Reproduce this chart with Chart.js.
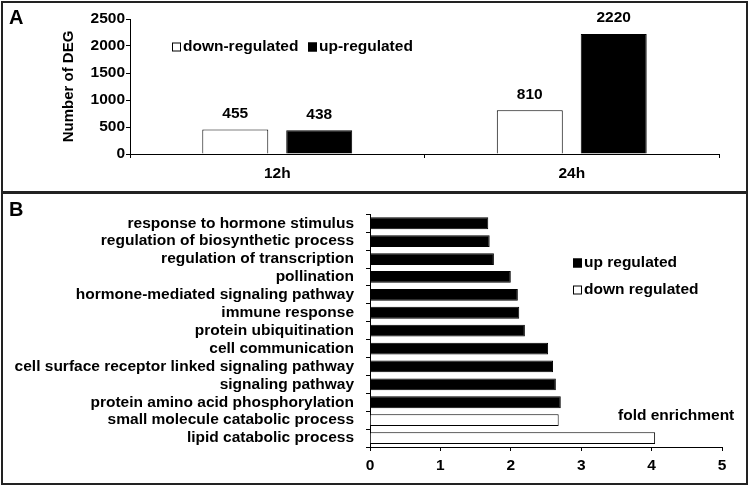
<!DOCTYPE html>
<html>
<head>
<meta charset="utf-8">
<script src="https://cdn.jsdelivr.net/npm/chart.js@4"></script>
<style>
   body { margin: 0; background: #fff; width: 750px; height: 487px; position: relative; overflow: hidden;
          font-family: "Liberation Sans", Arial, sans-serif; }
   canvas { position: absolute; left: 0; }
   #chartA { top: 0; }
   #chartB { top: 193px; }
   .panel { position: absolute; left: 1px; width: 743px; border: 2px solid #222; pointer-events: none; }
   #boxA { top: 1px; height: 188px; }
   #boxB { top: 192px; height: 289px; }
   .tag { position: absolute; left: 9px; font-weight: bold; font-size: 20px; line-height: 20px; color: #000; }
</style>
</head>
<body>
<canvas id="chartA" width="750" height="192"></canvas>
<canvas id="chartB" width="750" height="292"></canvas>
<div class="panel" id="boxA"></div>
<div class="panel" id="boxB"></div>
<div class="tag" style="top:7px">A</div>
<div class="tag" style="top:199px">B</div>
<script>
// panel A data
const times = ['12h', '24h'];
const downCounts = [455, 810];
const upCounts = [438, 2220];
const countTicks = [0, 500, 1000, 1500, 2000, 2500];

// panel B data
const terms = [
   'response to hormone stimulus',
   'regulation of biosynthetic process',
   'regulation of transcription',
   'pollination',
   'hormone-mediated signaling pathway',
   'immune response',
   'protein ubiquitination',
   'cell communication',
   'cell surface receptor linked signaling pathway',
   'signaling pathway',
   'protein amino acid phosphorylation',
   'small molecule catabolic process',
   'lipid catabolic process'
];
const foldUp = [1.68, 1.70, 1.76, 2.00, 2.10, 2.12, 2.20, 2.53, 2.60, 2.64, 2.71, null, null];
const foldDown = [null, null, null, null, null, null, null, null, null, null, null, 2.68, 4.05];
const foldTicks = [0, 1, 2, 3, 4, 5];

const fontFamily = '"Liberation Sans", Arial, Helvetica, sans-serif';
Chart.defaults.font.family = fontFamily;
Chart.defaults.font.weight = 'bold';
Chart.defaults.font.size = 15.5;
Chart.defaults.color = '#000';

// legend drawn inside the plot, like the original figure
const inlineLegend = {
   id: 'inlineLegend',
   afterDraw(chart, args, opts) {
      const ctx = chart.ctx;
      ctx.save();
      ctx.font = `bold 15.5px ${fontFamily}`;
      ctx.textBaseline = 'middle';
      ctx.textAlign = 'left';
      opts.items.forEach(it => {
         const ds = chart.data.datasets[it.index];
         ctx.fillStyle = ds.backgroundColor;
         ctx.fillRect(it.x, it.y - 4.5, 9, 9);
         ctx.strokeStyle = '#000';
         ctx.lineWidth = 1;
         ctx.strokeRect(it.x + 0.5, it.y - 4, 8, 8);
         ctx.fillStyle = '#000';
         ctx.fillText(ds.label, it.x + 11, it.y);
      });
      (opts.notes || []).forEach(n => {
         ctx.fillText(n.text, n.x, n.y);
      });
      ctx.restore();
   }
};

const valueLabels = {
   id: 'valueLabels',
   afterDatasetsDraw(chart) {
      const ctx = chart.ctx;
      ctx.save();
      ctx.font = `bold 15.5px ${fontFamily}`;
      ctx.fillStyle = '#000';
      ctx.textAlign = 'center';
      ctx.textBaseline = 'middle';
      chart.data.datasets.forEach((ds, i) => {
         chart.getDatasetMeta(i).data.forEach((bar, j) => {
            ctx.fillText(ds.data[j], bar.x, bar.y - 16);
         });
      });
      ctx.restore();
   }
};

new Chart(document.getElementById('chartA'), {
   type: 'bar',
   data: {
      labels: times,
      datasets: [
         { label: 'down-regulated', data: downCounts, backgroundColor: '#fff', borderColor: '#000', borderWidth: 1 },
         { label: 'up-regulated', data: upCounts, backgroundColor: '#000', borderColor: '#000', borderWidth: 1 }
      ]
   },
   options: {
      responsive: false,
      animation: false,
      categoryPercentage: 0.57,
      barPercentage: 0.786,
      layout: { padding: { left: 55, top: 19, right: 31, bottom: 0 } },
      scales: {
         x: {
            grid: { offset: true, drawOnChartArea: false, tickLength: 4, color: '#000' },
            border: { color: '#000' },
            ticks: { padding: 6 },
            afterFit: s => { s.height = 38; }
         },
         y: {
            min: 0,
            max: 2500,
            afterBuildTicks: s => { s.ticks = countTicks.map(v => ({ value: v })); },
            grid: { drawOnChartArea: false, tickLength: 4, color: '#000' },
            border: { color: '#000' },
            ticks: { padding: 1, callback: v => String(v) },
            title: { display: true, text: 'Number of DEG', font: { size: 15, weight: 'bold' }, padding: { top: 5, bottom: 0 } },
            afterFit: s => { s.width = 75; }
         }
      },
      plugins: {
         legend: { display: false },
         tooltip: { enabled: false },
         inlineLegend: { items: [ { index: 0, x: 172, y: 47 }, { index: 1, x: 308, y: 47 } ] }
      }
   },
   plugins: [valueLabels, inlineLegend]
});

new Chart(document.getElementById('chartB'), {
   type: 'bar',
   data: {
      labels: terms,
      datasets: [
         { label: 'up regulated', data: foldUp, backgroundColor: '#000', borderColor: '#000', borderWidth: 1, grouped: false },
         { label: 'down regulated', data: foldDown, backgroundColor: '#fff', borderColor: '#000', borderWidth: 1, grouped: false }
      ]
   },
   options: {
      responsive: false,
      animation: false,
      indexAxis: 'y',
      categoryPercentage: 0.73,
      barPercentage: 0.9,
      layout: { padding: { left: 0, top: 21, right: 28, bottom: 0 } },
      scales: {
         y: {
            grid: { offset: true, drawOnChartArea: false, tickLength: 4, color: '#000' },
            border: { color: '#000' },
            ticks: { padding: 12, autoSkip: false },
            afterFit: s => { s.width = 370; }
         },
         x: {
            min: 0,
            max: 5,
            afterBuildTicks: s => { s.ticks = foldTicks.map(v => ({ value: v })); },
            grid: { drawOnChartArea: false, tickLength: 4, color: '#000' },
            border: { color: '#000' },
            ticks: { padding: 5 },
            afterFit: s => { s.height = 38; }
         }
      },
      plugins: {
         legend: { display: false },
         tooltip: { enabled: false },
         inlineLegend: {
            items: [ { index: 0, x: 573, y: 70 }, { index: 1, x: 573, y: 97 } ],
            notes: [ { text: 'fold enrichment', x: 618, y: 223 } ]
         }
      }
   },
   plugins: [inlineLegend]
});
</script>
</body>
</html>
